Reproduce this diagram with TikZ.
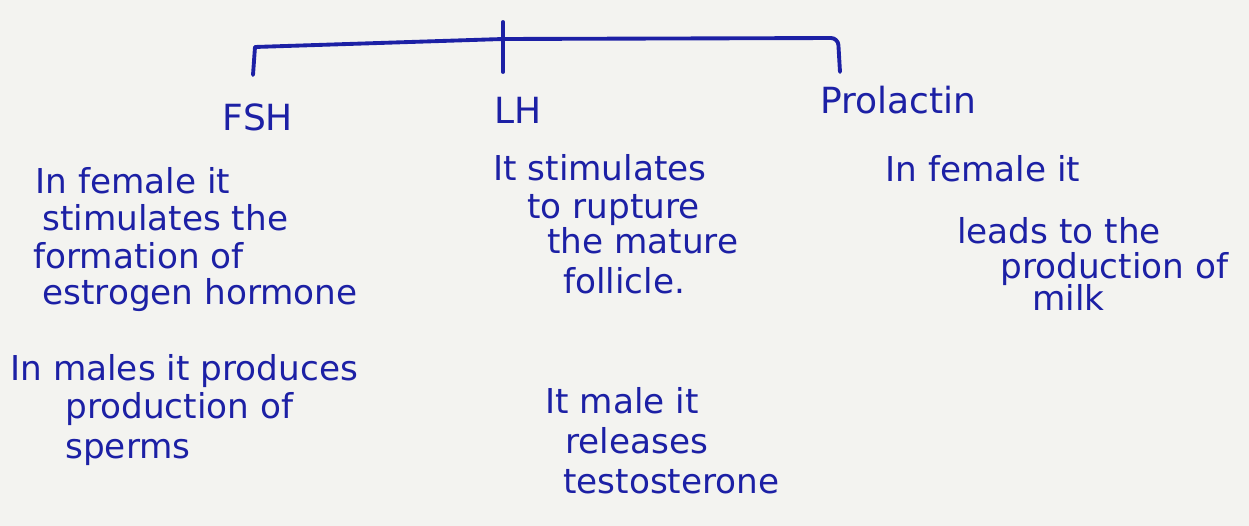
\documentclass[tikz,border=0pt]{standalone}
\usepackage{fontspec}
\setmainfont{DejaVu Sans}
\definecolor{ink}{RGB}{28,32,165}
\definecolor{paper}{RGB}{243,243,240}
\begin{document}
\begin{tikzpicture}[x=0.02cm,y=-0.02cm,
  hw/.style={anchor=west,inner sep=0pt,text=ink,text height=13pt,text depth=3pt,font=\fontsize{19.5}{21}\selectfont},
  ttl/.style={anchor=center,inner sep=0pt,text=ink,font=\fontsize{20.5}{22}\selectfont},
  brk/.style={draw=ink,line width=2.2pt,line cap=round,line join=round}]
\fill[paper] (0,0) rectangle (1249,526);
\useasboundingbox (0,0) rectangle (1249,526);
% bracket
\coordinate (bl) at (253,75);
\coordinate (blc) at (255,47);
\coordinate (bm) at (503,39);
\coordinate (bmt) at (503,22);
\coordinate (bmb) at (503,72);
\coordinate (brc) at (838,38);
\coordinate (br) at (840,72);
\draw[brk] (bl) -- (blc) [rounded corners=4pt] -- (bm) -- (brc) -- (br);
\draw[brk] (bmt) -- (bmb);
% titles
\node[ttl] (fsh) at (258,117) {FSH};
\node[ttl] (lh) at (518,110) {LH};
\node[ttl] (prl) at (898,100) {Prolactin};
% FSH block
\node[hw] (f1) at (35,185) {In female it};
\node[hw] (f2) at (42,222) {stimulates the};
\node[hw] (f3) at (33,260) {formation of};
\node[hw] (f4) at (42,296) {estrogen hormone};
\node[hw] (f5) at (10,372) {In males it produces};
\node[hw] (f6) at (65,410) {production of};
\node[hw] (f7) at (65,450) {sperms};
% LH block
\node[hw] (l1) at (493,172) {It stimulates};
\node[hw] (l2) at (527,210) {to rupture};
\node[hw] (l3) at (547,245) {the mature};
\node[hw] (l4) at (563,285) {follicle.};
\node[hw] (l5) at (545,405) {It male it};
\node[hw] (l6) at (565,445) {releases};
\node[hw] (l7) at (563,485) {testosterone};
% Prolactin block
\node[hw] (p1) at (885,173) {In female it};
\node[hw] (p2) at (957,235) {leads to the};
\node[hw] (p3) at (1000,270) {production of};
\node[hw] (p4) at (1032,302) {milk};
\end{tikzpicture}
\end{document}
